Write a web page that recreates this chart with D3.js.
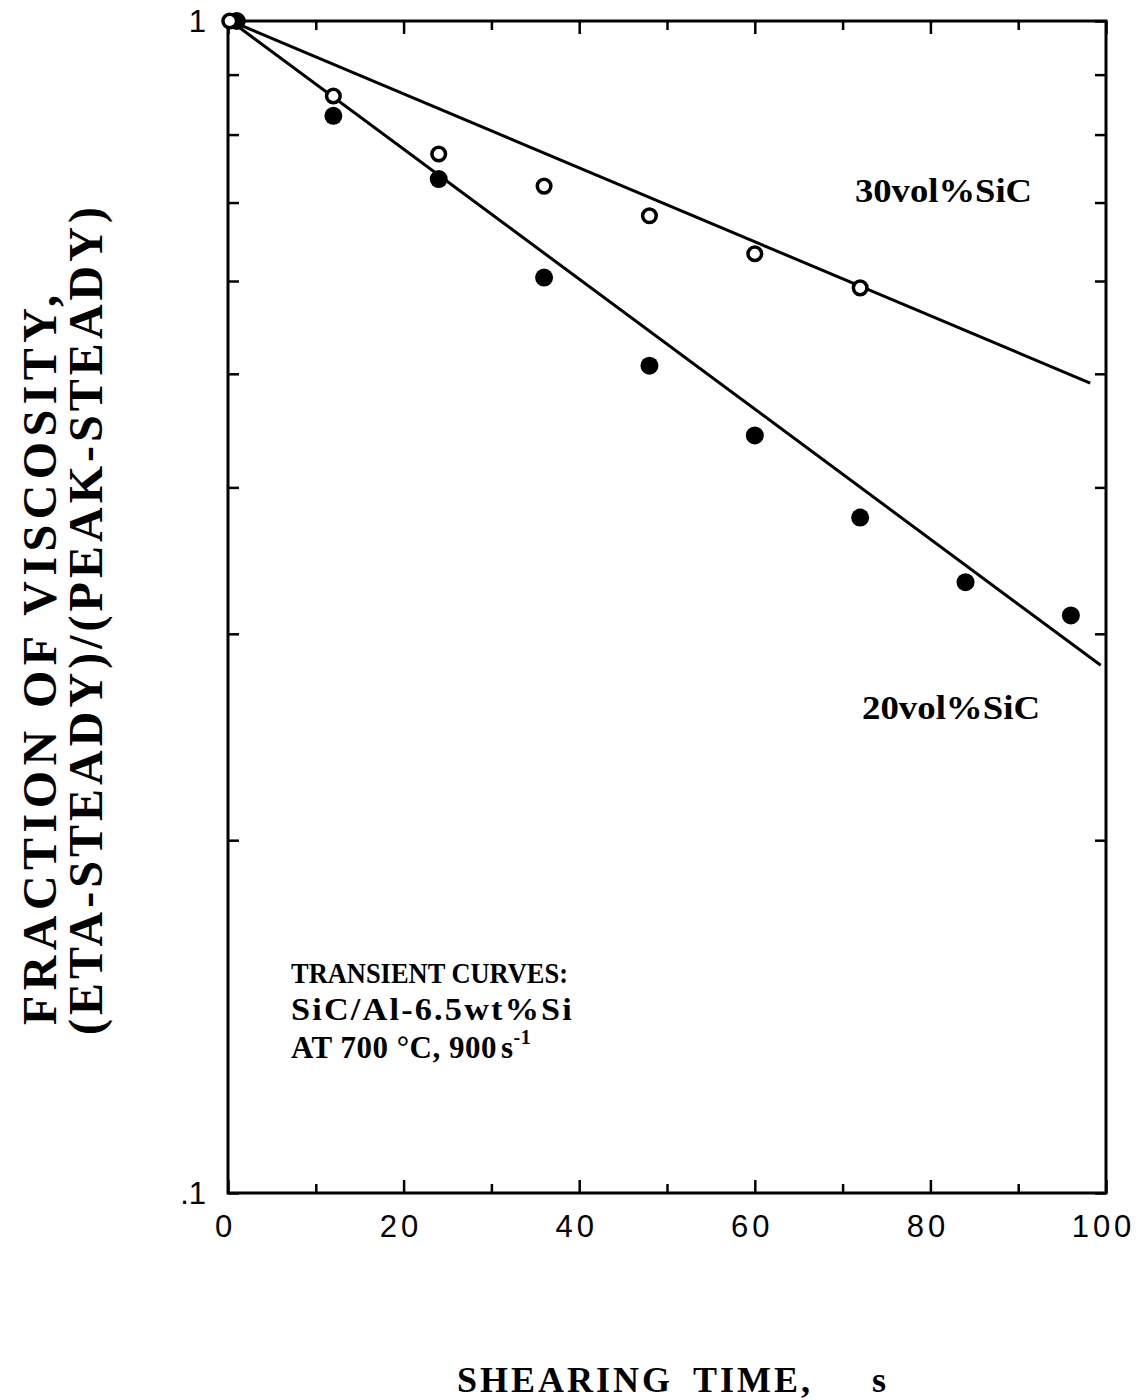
<!DOCTYPE html>
<html><head><meta charset="utf-8">
<script src="https://cdn.jsdelivr.net/npm/d3@7"></script>
<style>body{margin:0;background:#fff}</style>
</head><body>
<script>
// ---- data ----
const xTicksMajor = [0, 20, 40, 60, 80, 100];
const xTicksMinor = [10, 30, 50, 70, 90];
const yTicks = [0.1, 0.2, 0.3, 0.4, 0.5, 0.6, 0.7, 0.8, 0.9, 1];
const yTickLabels = {1: "1", 0.1: ".1"};

const sic30_t = [0.2, 12, 24, 36, 48, 60, 72];
const sic30_v = [1.0, 0.863, 0.770, 0.723, 0.682, 0.633, 0.592];
const sic20_t = [1.0, 12, 24, 36, 48, 60, 72, 84, 96];
const sic20_v = [1.0, 0.830, 0.733, 0.604, 0.508, 0.443, 0.377, 0.332, 0.311];

const fit30_t = [0.3, 98.2];
const fit30_v = [1.0, 0.491];
const fit20_t = [0.3, 99.4];
const fit20_v = [1.0, 0.282];

const W = 1146, H = 1400;
const svg = d3.select("body").append("svg").attr("width", W).attr("height", H)
  .style("font-family", "'Liberation Serif', serif");

const x = d3.scaleLinear().domain([0, 100]).range([228, 1106]);
const y = d3.scaleLog().domain([0.1, 1]).range([1193, 21]);

const ink = "#000";
const g = svg.append("g");

// frame
g.append("rect").attr("x", x(0)).attr("y", y(1)).attr("width", x(100) - x(0)).attr("height", y(0.1) - y(1))
  .attr("fill", "none").attr("stroke", ink).attr("stroke-width", 3);

const bottomMajor = d3.axisBottom(x).tickValues(xTicksMajor).tickSize(-13).tickFormat(d3.format("d")).tickPadding(0);
const bottomMinor = d3.axisBottom(x).tickValues(xTicksMinor).tickSize(-9).tickFormat("");
const topMajor = d3.axisTop(x).tickValues(xTicksMajor).tickSize(-13).tickFormat("");
const topMinor = d3.axisTop(x).tickValues(xTicksMinor).tickSize(-9).tickFormat("");
const leftAx = d3.axisLeft(y).tickValues(yTicks).tickSize(-11).tickFormat(d => yTickLabels[d] || "").tickPadding(22);
const rightAx = d3.axisRight(y).tickValues(yTicks).tickSize(-11).tickFormat("");

function style(sel) {
  sel.select(".domain").remove();
  sel.selectAll(".tick line").attr("stroke", ink).attr("stroke-width", 2.5);
  sel.selectAll(".tick text").attr("fill", ink)
    .style("font-family", "'Liberation Sans', Arial, sans-serif").style("font-size", "31px");
}
g.append("g").attr("transform", `translate(0,${y(0.1)})`).call(bottomMajor).call(style)
  .selectAll(".tick text").style("letter-spacing", "4px").attr("dx", "-3").attr("y", 44).attr("dy", 0);
g.append("g").attr("transform", `translate(0,${y(0.1)})`).call(bottomMinor).call(style);
g.append("g").attr("transform", `translate(0,${y(1)})`).call(topMajor).call(style);
g.append("g").attr("transform", `translate(0,${y(1)})`).call(topMinor).call(style);
g.append("g").attr("transform", `translate(${x(0)},0)`).call(leftAx).call(style)
  .selectAll(".tick text").attr("dy", "0.35em");
g.append("g").attr("transform", `translate(${x(100)},0)`).call(rightAx).call(style);

// fit lines
const line = d3.line().x(d => x(d[0])).y(d => y(d[1]));
g.append("path").datum(d3.zip(fit30_t, fit30_v)).attr("d", line)
  .attr("fill", "none").attr("stroke", ink).attr("stroke-width", 3);
g.append("path").datum(d3.zip(fit20_t, fit20_v)).attr("d", line)
  .attr("fill", "none").attr("stroke", ink).attr("stroke-width", 3);

// points
g.selectAll("circle.s20").data(d3.zip(sic20_t, sic20_v)).join("circle").attr("class", "s20")
  .attr("cx", d => x(d[0])).attr("cy", d => y(d[1])).attr("r", 9).attr("fill", ink);
g.selectAll("circle.s30").data(d3.zip(sic30_t, sic30_v)).join("circle").attr("class", "s30")
  .attr("cx", d => x(d[0])).attr("cy", d => y(d[1])).attr("r", 6.8)
  .attr("fill", "#fff").attr("stroke", ink).attr("stroke-width", 3.5);

// annotations
function txt(xp, yp, s, size, len, ls) {
  const t = svg.append("text").attr("x", xp).attr("y", yp).text(s)
    .attr("font-weight", "bold").attr("font-size", size).attr("fill", ink);
  if (ls) t.style("letter-spacing", ls + "px");
  if (len) t.attr("textLength", len).attr("lengthAdjust", "spacingAndGlyphs");
  return t;
}
txt(855, 202, "30vol%SiC", 33, 177);
txt(862, 719, "20vol%SiC", 33, 178);
txt(291, 983, "TRANSIENT CURVES:", 29, 277);
txt(291, 1020, "SiC/Al-6.5wt%Si", 31, 283, 2);
const t3 = svg.append("text").attr("x", 291).attr("y", 1058).attr("font-weight", "bold")
  .attr("font-size", 31).attr("fill", ink).style("letter-spacing", "0.5px");
t3.append("tspan").text("AT 700 °C, 900");
t3.append("tspan").text("s").attr("dx", 4);
t3.append("tspan").text("-1").attr("font-size", 20).attr("dy", -14);

// axis titles
const xt = svg.append("text").attr("y", 1392)
  .attr("font-weight", "bold").attr("font-size", 36).attr("fill", ink).style("letter-spacing", "3px");
xt.append("tspan").attr("x", 457).text("SHEARING");
xt.append("tspan").attr("x", 693).text("TIME,");
xt.append("tspan").attr("x", 872).text("s");
svg.append("text").attr("transform", "translate(56,1025) rotate(-90)")
  .attr("font-weight", "bold").attr("font-size", 48).attr("fill", ink)
  .attr("textLength", 730).attr("lengthAdjust", "spacing").text("FRACTION OF VISCOSITY,");
svg.append("text").attr("transform", "translate(102,1035) rotate(-90)")
  .attr("font-weight", "bold").attr("font-size", 48).attr("fill", ink)
  .attr("textLength", 828).attr("lengthAdjust", "spacing").text("(ETA-STEADY)/(PEAK-STEADY)");
</script>
</body></html>
